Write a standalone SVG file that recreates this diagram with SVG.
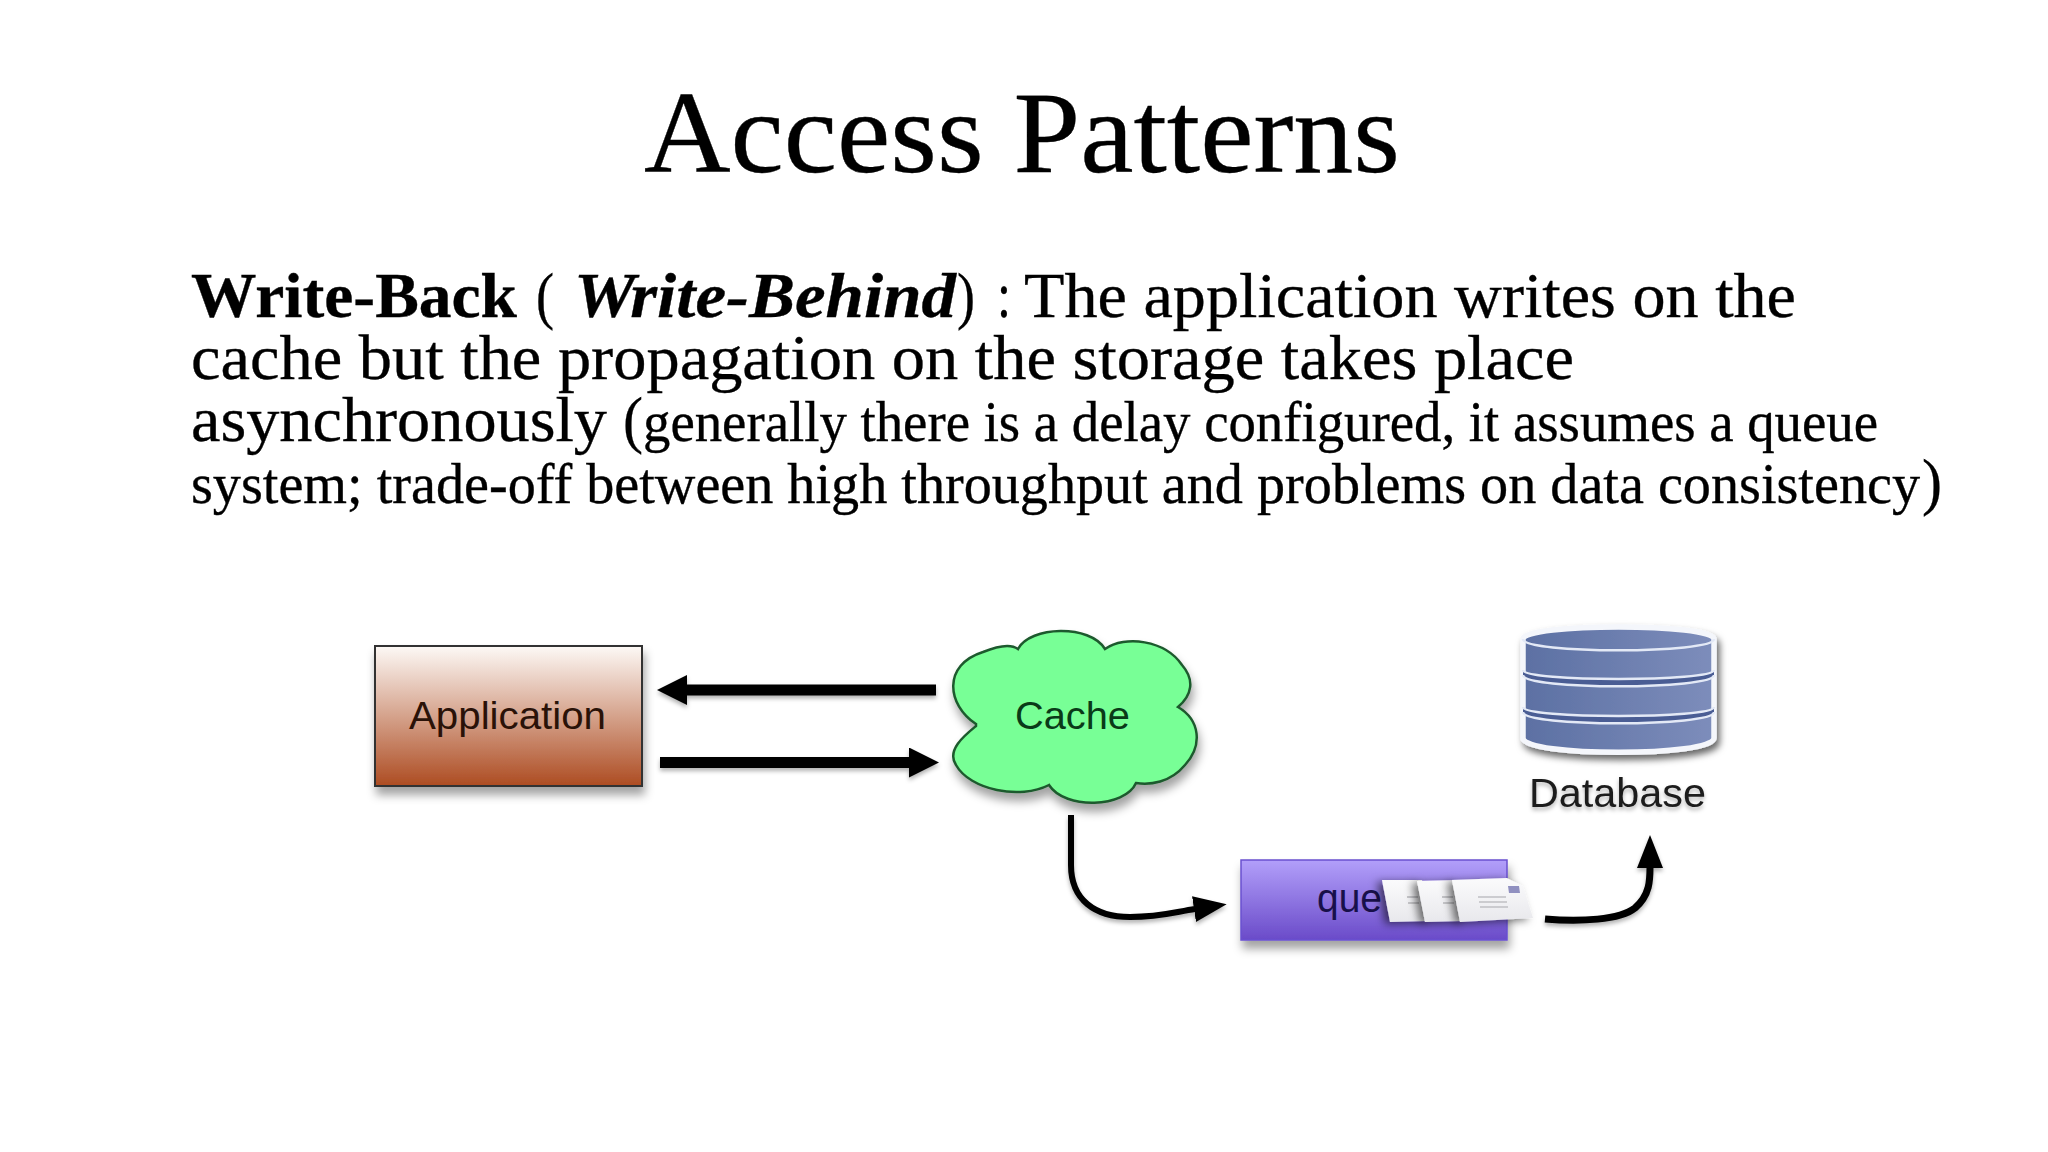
<svg xmlns="http://www.w3.org/2000/svg" width="2048" height="1152" viewBox="0 0 2048 1152">
<style>
.s{font-family:"Liberation Serif","DejaVu Serif",serif;fill:#000;stroke:#000;stroke-width:.35px}
.h{font-family:"Liberation Sans",Arial,sans-serif}
.l{font-size:64px}
.m{font-size:56px}
.b{font-weight:700}
.i{font-style:italic}
.dk{fill:none;stroke:#000;stroke-linecap:butt}
</style>
<defs>
<linearGradient id="app" x1="0" y1="0" x2="0" y2="1"><stop offset="0" stop-color="#fdf9f6"/><stop offset="1" stop-color="#ad4c22"/></linearGradient>
<linearGradient id="que" x1="0" y1="0" x2="0" y2="1"><stop offset="0" stop-color="#b29ffa"/><stop offset="1" stop-color="#6a4bc9"/></linearGradient>
<linearGradient id="db" x1="0" y1="0" x2="1" y2="0"><stop offset="0" stop-color="#5c70a3"/><stop offset="1" stop-color="#7d8dbb"/></linearGradient>
<linearGradient id="env" x1="0" y1="0" x2="0" y2="1"><stop offset="0" stop-color="#fbfbfc"/><stop offset="1" stop-color="#e8e8ec"/></linearGradient>
<filter id="sh" x="-10%" y="-10%" width="125%" height="140%"><feDropShadow dx="2" dy="8" stdDeviation="5" flood-color="#000" flood-opacity=".36"/></filter>
<filter id="shd" x="-10%" y="-10%" width="125%" height="130%"><feDropShadow dx="3" dy="5" stdDeviation="3.500" flood-color="#000" flood-opacity=".6"/></filter>
<filter id="sh2" x="-10%" y="-30%" width="120%" height="180%"><feDropShadow dx="0" dy="3" stdDeviation="2" flood-color="#000" flood-opacity=".3"/></filter>
<filter id="she" x="-30%" y="-20%" width="150%" height="150%"><feDropShadow dx="-5" dy="2" stdDeviation="4" flood-color="#000" flood-opacity=".55"/></filter>
<marker id="big" markerUnits="userSpaceOnUse" markerWidth="32" markerHeight="32" refX="1" refY="15" orient="auto"><path d="M0 0L30 15L0 30Z" fill="#000"/></marker>
<marker id="cur" markerUnits="userSpaceOnUse" markerWidth="36" markerHeight="28" refX="1" refY="13" orient="auto"><path d="M0 0L33 13L0 26Z" fill="#000"/></marker>
</defs>
<rect width="2048" height="1152" fill="#fff"/>
<text id="title" class="s" x="644" y="172" font-size="116" textLength="756" lengthAdjust="spacingAndGlyphs">Access Patterns</text>
<g id="body">
<text class="s l" y="317"><tspan class="b" x="191" textLength="326" lengthAdjust="spacingAndGlyphs">Write-Back</tspan><tspan x="536" textLength="18" lengthAdjust="spacingAndGlyphs">(</tspan><tspan class="b i" x="574" textLength="382" lengthAdjust="spacingAndGlyphs">Write-Behind</tspan><tspan x="957" textLength="18" lengthAdjust="spacingAndGlyphs">)</tspan><tspan x="997" textLength="14" lengthAdjust="spacingAndGlyphs">:</tspan><tspan x="1024" textLength="772" lengthAdjust="spacingAndGlyphs">The application writes on the</tspan></text>
<text class="s l" x="191" y="379" textLength="1383" lengthAdjust="spacingAndGlyphs">cache but the propagation on the storage takes place</text>
<text class="s l" y="441"><tspan x="191" textLength="416" lengthAdjust="spacingAndGlyphs">asynchronously</tspan><tspan x="623" textLength="20" lengthAdjust="spacingAndGlyphs">(</tspan><tspan class="m" x="643" textLength="1235" lengthAdjust="spacingAndGlyphs">generally there is a delay configured, it assumes a queue</tspan></text>
<text class="s m" y="503"><tspan x="191" textLength="1729" lengthAdjust="spacingAndGlyphs">system; trade-off between high throughput and problems on data consistency</tspan><tspan class="l" x="1922" textLength="20" lengthAdjust="spacingAndGlyphs">)</tspan></text>
</g>
<g id="connectors" filter="url(#sh2)">
<path class="dk" stroke-width="11" d="M936 690H686" marker-end="url(#big)"/>
<path class="dk" stroke-width="11" d="M660 762.500H910" marker-end="url(#big)"/>
<path class="dk" stroke-width="6" d="M1071 815V865C1071 900 1095 917 1130 917C1160 917 1175 912 1195 909" marker-end="url(#cur)"/>
<path class="dk" stroke-width="7" stroke-linecap="round" d="M1545 919C1580 922 1620 920 1635 908C1650 895 1650 880 1650 867" marker-end="url(#cur)"/>
</g>
<g id="application">
<rect x="375" y="646" width="267" height="140" fill="url(#app)" stroke="#333" stroke-width="2" filter="url(#sh)"/>
<text class="h" x="409" y="729" font-size="38" fill="#2a1208" textLength="197" lengthAdjust="spacingAndGlyphs">Application</text>
</g>
<g id="cache">
<path d="M976 724C947 705 942 665 983 652C995 647 1010 643 1018 649C1030 626 1090 624 1105 649C1125 635 1165 640 1182 665C1195 680 1192 695 1178 707C1200 720 1203 745 1185 765C1170 783 1150 785 1136 783C1125 808 1065 810 1049 785C1020 800 970 790 956 765C946 750 965 735 976 726Z" fill="#78ff96" stroke="#1f5a2d" stroke-width="2.500" filter="url(#sh)"/>
<text class="h" x="1015" y="729" font-size="38" fill="#0a3a18" textLength="115" lengthAdjust="spacingAndGlyphs">Cache</text>
</g>
<g id="database">
<path d="M1523 639C1523 623 1714 623 1714 639V738C1714 757 1523 757 1523 738Z" fill="url(#db)" stroke="#f4f6fb" stroke-width="5.500" filter="url(#shd)"/>
<path d="M1523 670C1523 682 1714 682 1714 670V675C1714 690 1523 690 1523 675ZM1523 707C1523 719 1714 719 1714 707V712C1714 727 1523 727 1523 712Z" fill="#4a5d94"/>
<g fill="none" stroke="#e3e9f6" stroke-width="2.500">
<path d="M1523 639C1523 654 1714 654 1714 639"/>
<path d="M1523 670C1523 682 1714 682 1714 670"/>
<path d="M1523 675C1523 690 1714 690 1714 675"/>
<path d="M1523 707C1523 719 1714 719 1714 707"/>
<path d="M1523 712C1523 727 1714 727 1714 712"/>
</g>
<text class="h" x="1529" y="807" font-size="40" fill="#1c1c1c" textLength="177" lengthAdjust="spacingAndGlyphs" filter="url(#sh2)">Database</text>
</g>
<g id="queue">
<rect x="1241" y="860" width="266" height="80" fill="url(#que)" stroke="#6a50d0" stroke-width="1.500" filter="url(#sh)"/>
<text class="h" x="1317" y="912" font-size="40" fill="#18104a" textLength="65" lengthAdjust="spacingAndGlyphs">que</text>
<path d="M1382 880L1422 880L1430 921L1390 922Z" fill="url(#env)" filter="url(#she)"/>
<path d="M1407 897H1418M1408 903H1419" stroke="#b8b8bc" stroke-width="1.500"/>
<path d="M1417 881L1457 880L1465 921L1425 922Z" fill="url(#env)" filter="url(#she)"/>
<path d="M1442 897H1453M1443 903H1454" stroke="#b8b8bc" stroke-width="1.500"/>
<path d="M1452 880L1507 878L1523 886L1533 918L1460 922Z" fill="url(#env)" filter="url(#she)"/>
<path d="M1508 886L1519 886L1520 893L1509 893Z" fill="#9090c0"/>
<path d="M1478 897H1506M1479 902H1507M1480 907H1508" stroke="#c0c0c4" stroke-width="1.500"/>
</g>
</svg>
